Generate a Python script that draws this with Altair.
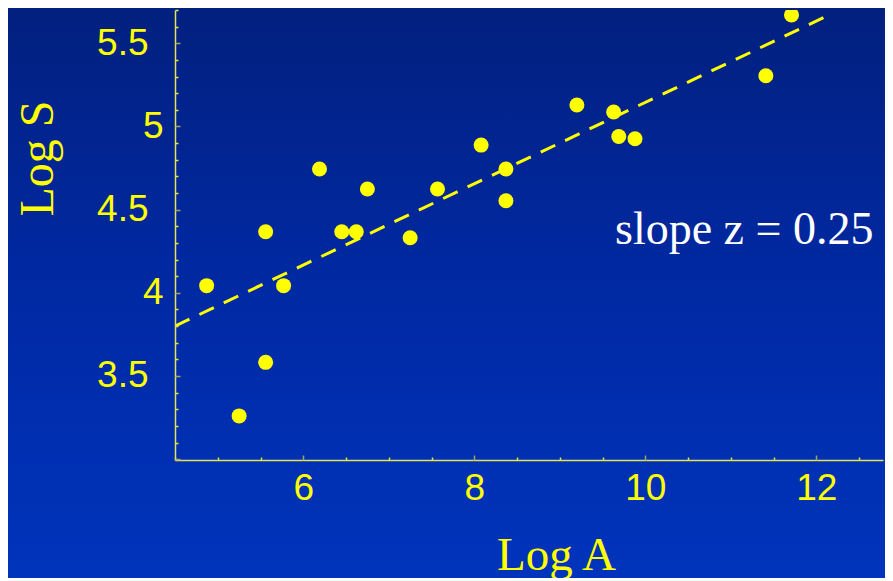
import altair as alt
import pandas as pd

# ---- data ----
log_a = [4.87, 5.25, 5.56, 5.56, 5.77, 6.19, 6.45, 6.62, 6.75, 7.25,
         7.57, 8.08, 8.37, 8.37, 9.20, 9.63, 9.69, 9.88, 11.41, 11.71]
log_s = [4.043, 3.26, 4.367, 3.582, 4.043, 4.744, 4.367, 4.367, 4.624, 4.331,
         4.624, 4.888, 4.744, 4.553, 5.129, 5.087, 4.94, 4.926, 5.305, 5.67]
fit_a = [4.5, 12.17]
fit_s = [3.80, 5.675]
x_major = [6, 8, 10, 12]
x_ticks = [4.5, 5, 5.5, 6, 6.5, 7, 7.5, 8, 8.5, 9, 9.5, 10, 10.5, 11, 11.5, 12, 12.5]
y_major = [3.5, 4, 4.5, 5, 5.5]
y_ticks = [3.0, 3.1, 3.2, 3.3, 3.4, 3.5, 3.6, 3.7, 3.8, 3.9, 4.0, 4.1, 4.2, 4.3, 4.4,
           4.5, 4.6, 4.7, 4.8, 4.9, 5.0, 5.1, 5.2, 5.3, 5.4, 5.5, 5.6, 5.7]
annotation = "slope z = 0.25"

W, H = 708, 450
YEL = "#ffff00"
AXC = "#e2e25c"

pts_df = pd.DataFrame({"a": log_a, "s": log_s})
fit_df = pd.DataFrame({"a": fit_a, "s": fit_s})
one = pd.DataFrame({"k": [0]})

xs = alt.Scale(domain=[4.5, 12.78], nice=False, zero=False)
ys = alt.Scale(domain=[2.995, 5.7], nice=False, zero=False)

grad = alt.LinearGradient(
    gradient="linear",
    stops=[alt.GradientStop(color="#02207f", offset=0),
           alt.GradientStop(color="#0029a4", offset=0.5),
           alt.GradientStop(color="#0034bc", offset=1)],
    x1=0, x2=0, y1=0, y2=1,
)

bg = alt.Chart(one).mark_rect(fill=grad).encode(
    x=alt.value(-167), x2=alt.value(W + 2), y=alt.value(-2), y2=alt.value(H + 118)
)

x_main = alt.Axis(orient="bottom", values=x_major, ticks=False, grid=False, format="~g",
                  domainColor=AXC, domainWidth=1.5, labelColor=YEL,
                  labelFont="Liberation Sans", labelFontSize=37, labelPadding=10,
                  labelBaseline="top", labelFlush=False, labelOverlap=False,
                  title="Log A", titleColor=YEL, titleFont="Liberation Serif",
                  titleFontSize=47, titleFontWeight="normal", titleX=381, titleY=109,
                  titleAlign="center", titleBaseline="alphabetic", titleAngle=0, zindex=1)
y_main = alt.Axis(orient="left", values=y_major, ticks=False, grid=False, format="~g",
                  domainColor=AXC, domainWidth=1.5, labelColor=YEL,
                  labelFont="Liberation Sans", labelFontSize=37,
                  labelPadding=alt.condition("datum.value % 1 === 0", alt.value(12), alt.value(27)),
                  labelBaseline="middle", labelAlign="right", labelFlush=False, labelOverlap=False,
                  title="Log S", titleColor=YEL, titleFont="Liberation Serif",
                  titleFontSize=48, titleFontWeight="normal", titleX=-123, titleY=148,
                  titleAlign="center", titleBaseline="alphabetic", titleAngle=270, zindex=1)

x_tick_axis = alt.Axis(orient="top", offset=-H, values=x_ticks, labels=False, domain=False,
                       grid=False, title=None, zindex=1,
                       tickSize=alt.condition("datum.value % 2 === 0", alt.value(5), alt.value(3)),
                       tickColor=alt.condition("datum.value % 2 === 0", alt.value("#a4a45a"), alt.value("#e8e830")),
                       tickWidth=1.5)
y_tick_axis = alt.Axis(orient="right", offset=-W, values=y_ticks, labels=False, domain=False,
                       grid=False, title=None, zindex=1,
                       tickSize=alt.condition("abs(datum.value*2 - round(datum.value*2)) < 0.001", alt.value(5), alt.value(3)),
                       tickColor=alt.condition("abs(datum.value*2 - round(datum.value*2)) < 0.001", alt.value("#a4a45a"), alt.value("#e8e830")),
                       tickWidth=1.5)

line = alt.Chart(fit_df).mark_line(color=YEL, strokeWidth=3, strokeDash=[16, 11], clip=True).encode(
    x=alt.X("a:Q", scale=xs, axis=x_main),
    y=alt.Y("s:Q", scale=ys, axis=y_main),
)

pts = alt.Chart(pts_df).mark_circle(color=YEL, opacity=1, size=225, clip=True).encode(
    x=alt.X("a:Q", scale=xs, axis=x_tick_axis),
    y=alt.Y("s:Q", scale=ys, axis=y_tick_axis),
)

txt = alt.Chart(one).mark_text(text=annotation, color="white", font="Liberation Serif",
                               fontSize=46, align="left", baseline="alphabetic").encode(
    x=alt.value(440), y=alt.value(234)
)

chart = alt.layer(bg, line, pts, txt).resolve_axis(x="independent", y="independent").properties(
    width=W, height=H,
    padding={"left": 167, "top": 2, "right": 2, "bottom": 118},
    autosize=alt.AutoSizeParams(type="none"),
).configure_view(stroke=None).configure(background="#0029a4")

chart.save("out.html", embed_options={"renderer": "svg", "actions": False})
